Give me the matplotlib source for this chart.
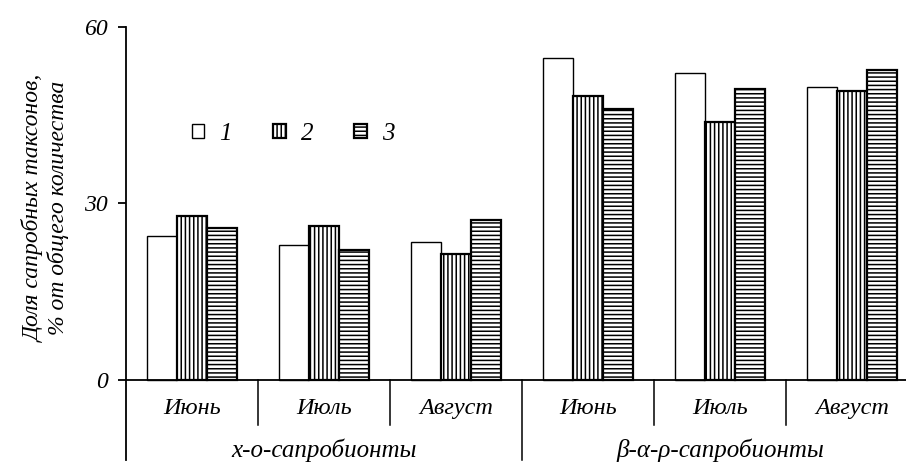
import matplotlib
matplotlib.use("Agg")
import matplotlib.pyplot as plt
from matplotlib.patches import Patch
import numpy as np

plt.rcParams["font.family"] = ["Liberation Serif", "DejaVu Serif"]
plt.rcParams["font.style"] = "italic"
plt.rcParams["hatch.linewidth"] = 1.1
plt.rcParams["hatch.color"] = "black"

months = ["Июнь", "Июль", "Август", "Июнь", "Июль", "Август"]
groups = ["x-o-сапробионты", "β-α-ρ-сапробионты"]
series_labels = ["1", "2", "3"]
s1 = [24.5, 22.9, 23.5, 54.7, 52.2, 49.8]
s2 = [27.8, 26.1, 21.4, 48.3, 43.8, 49.1]
s3 = [25.9, 22.1, 27.2, 46.1, 49.5, 52.7]
yticks = [0, 30, 60]

W, H = 906, 465
fig = plt.figure(figsize=(W / 100, H / 100), dpi=100)
ax = fig.add_axes([126 / W, 1 - 460 / H, 792 / W, 433 / H])

x = np.arange(len(months))
bw = 0.226
styles = [
    dict(hatch=None, lw=1.0),
    dict(hatch="||||", lw=1.6),
    dict(hatch="----", lw=1.6),
]
for k, (vals, st) in enumerate(zip([s1, s2, s3], styles)):
    ax.bar(x + (k - 1) * bw, vals, width=bw, facecolor="white",
           edgecolor="black", linewidth=st["lw"], hatch=st["hatch"], zorder=2)

ax.set_xlim(-0.5, 5.5)
ax.set_ylim(-13.6, 60)

for s in ["top", "right", "bottom"]:
    ax.spines[s].set_visible(False)
ax.spines["left"].set_linewidth(1.3)
ax.axhline(0, color="black", lw=1.3, clip_on=False, zorder=3)

ax.set_xticks([])
ax.set_yticks(yticks)
ax.set_yticklabels([str(t) for t in yticks], fontsize=17)
ax.tick_params(axis="y", length=6, width=1.3, pad=7)

# category separators below the axis
for xs in [0.5, 1.5, 3.5, 4.5]:
    ax.plot([xs, xs], [0, -7.6], color="black", lw=1.1, clip_on=False)
ax.plot([2.5, 2.5], [0, -13.6], color="black", lw=1.1, clip_on=False)

for i, m in enumerate(months):
    ax.text(i, -4.9, m, ha="center", va="center", fontsize=17.5)
for g, name in enumerate(groups):
    ax.text(1 + 3 * g, -12.0, name, ha="center", va="center", fontsize=18)

fig.text(46 / W, 1 - 208 / H, "Доля сапробных таксонов,\n% от общего количества",
         rotation=90, ha="center", va="center", fontsize=17, linespacing=1.12)

handles = [Patch(facecolor="white", edgecolor="black", lw=st["lw"], hatch=st["hatch"])
           for st in styles]
ax.legend(handles, series_labels, ncol=3, frameon=False, fontsize=18,
          loc="center", bbox_to_anchor=(293 / W, 1 - 134 / H),
          bbox_transform=fig.transFigure, handlelength=0.5, handleheight=0.5,
          handletextpad=0.6, columnspacing=1.65)

fig.savefig("out.png", dpi=100)
